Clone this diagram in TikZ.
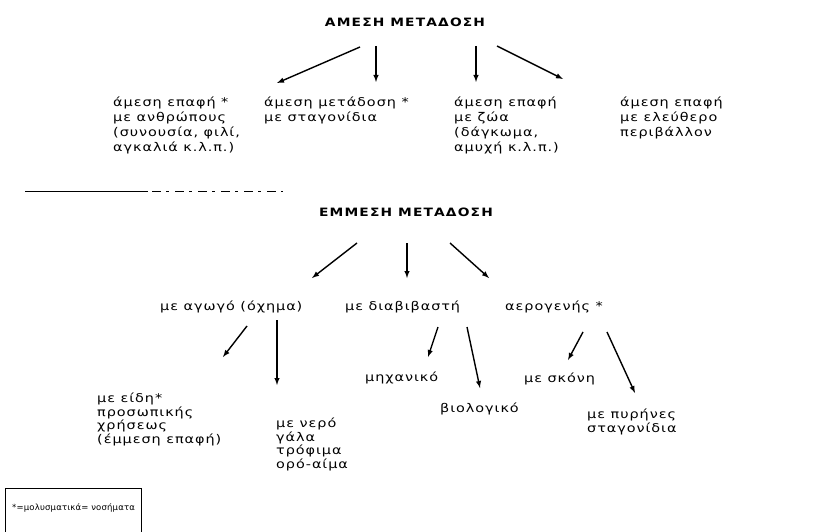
\documentclass[tikz,border=0pt]{standalone}
\usepackage{fontspec}
\setmainfont{DejaVu Sans}[FakeStretch=1.2, LetterSpace=8]
\newfontfamily\notefont{DejaVu Sans}[LetterSpace=2]
\usetikzlibrary{calc}

\tikzset{
  head/.style={font=\fontsize{11.5}{13}\selectfont\bfseries\addfontfeature{LetterSpace=10}, inner sep=0pt},
  txt/.style={font=\fontsize{12}{15}\selectfont, align=left, anchor=north west, inner sep=0pt},
  txtb/.style={txt, font=\fontsize{12}{13.5}\selectfont},
  note/.style={font=\notefont\fontsize{8.5}{10}\selectfont, anchor=west, inner sep=0pt},
}

\begin{document}
\begin{tikzpicture}[x=1pt, y=-1pt]
    \useasboundingbox (0,0) rectangle (822,532);

    % Amesi metadosi.
    \node[head] (amesi) at (405,22) {ΑΜΕΣΗ ΜΕΤΑΔΟΣΗ};
    \node[txt] (anthropoi) at (113,97) {άμεση επαφή *\\με ανθρώπους\\(συνουσία, φιλί,\\αγκαλιά κ.λ.π.)};
    \node[txt] (stagonidia) at (264,97) {άμεση μετάδοση *\\με σταγονίδια};
    \node[txt] (zoa) at (454,97) {άμεση επαφή\\με ζώα\\(δάγκωμα,\\αμυχή κ.λ.π.)};
    \node[txt] (perivallon) at (620,97) {άμεση επαφή\\με ελεύθερο\\περιβάλλον};

    \coordinate (A1) at (360,47); \coordinate (B1) at (277,83);
    \coordinate (A2) at (376,46); \coordinate (B2) at (376,82);
    \coordinate (A3) at (476,46); \coordinate (B3) at (476,82);
    \coordinate (A4) at (497,46); \coordinate (B4) at (563,79);
    \foreach \i in {1,...,4}
        \draw[line width=1.4pt, -latex] (A\i) -- (B\i);

    % Separator.
    \draw[thin] (25,191) -- (148,191);
    \draw[thin, dash pattern=on 9pt off 5pt on 3pt off 6pt] (152,191) -- (283,191);

    % Emmesi metadosi.
    \node[head] (emmesi) at (406,212) {ΕΜΜΕΣΗ ΜΕΤΑΔΟΣΗ};
    \node[txt, anchor=west] (agogos) at (160,307) {με αγωγό (όχημα)};
    \node[txt, anchor=west] (diavivastis) at (345,307) {με διαβιβαστή};
    \node[txt, anchor=west] (aerogenis) at (505,307) {αερογενής *};

    \coordinate (C1) at (357,243); \coordinate (D1) at (312,278);
    \coordinate (C2) at (407,243); \coordinate (D2) at (407,278);
    \coordinate (C3) at (450,243); \coordinate (D3) at (489,278);
    \foreach \i in {1,...,3}
        \draw[line width=1.4pt, -latex] (C\i) -- (D\i);

    % Third level.
    \node[txtb] (eidi) at (97,393) {με είδη*\\προσωπικής\\χρήσεως\\(έμμεση επαφή)};
    \node[txtb] (nero) at (276,418) {με νερό\\γάλα\\τρόφιμα\\ορό-αίμα};
    \node[txt, anchor=west] (michaniko) at (365,378) {μηχανικό};
    \node[txt, anchor=west] (viologiko) at (440,409) {βιολογικό};
    \node[txt, anchor=west] (skoni) at (524,379) {με σκόνη};
    \node[txtb] (pyrines) at (587,409) {με πυρήνες\\σταγονίδια};

    \coordinate (E1) at (247,326); \coordinate (F1) at (223,357);
    \coordinate (E2) at (277,320); \coordinate (F2) at (277,385);
    \coordinate (E3) at (438,327); \coordinate (F3) at (428,357);
    \coordinate (E4) at (467,327); \coordinate (F4) at (480,388);
    \coordinate (E5) at (583,332); \coordinate (F5) at (568,360);
    \coordinate (E6) at (607,332); \coordinate (F6) at (635,393);
    \foreach \i in {1,...,6}
        \draw[line width=1.4pt, -latex] (E\i) -- (F\i);

    % Footnote box.
    \node[note] (nosimata) at (12,508) {*=μολυσματικά= νοσήματα};
    \draw[thick] (5,532) |- (141,488) -- (141,532);
\end{tikzpicture}
\end{document}
